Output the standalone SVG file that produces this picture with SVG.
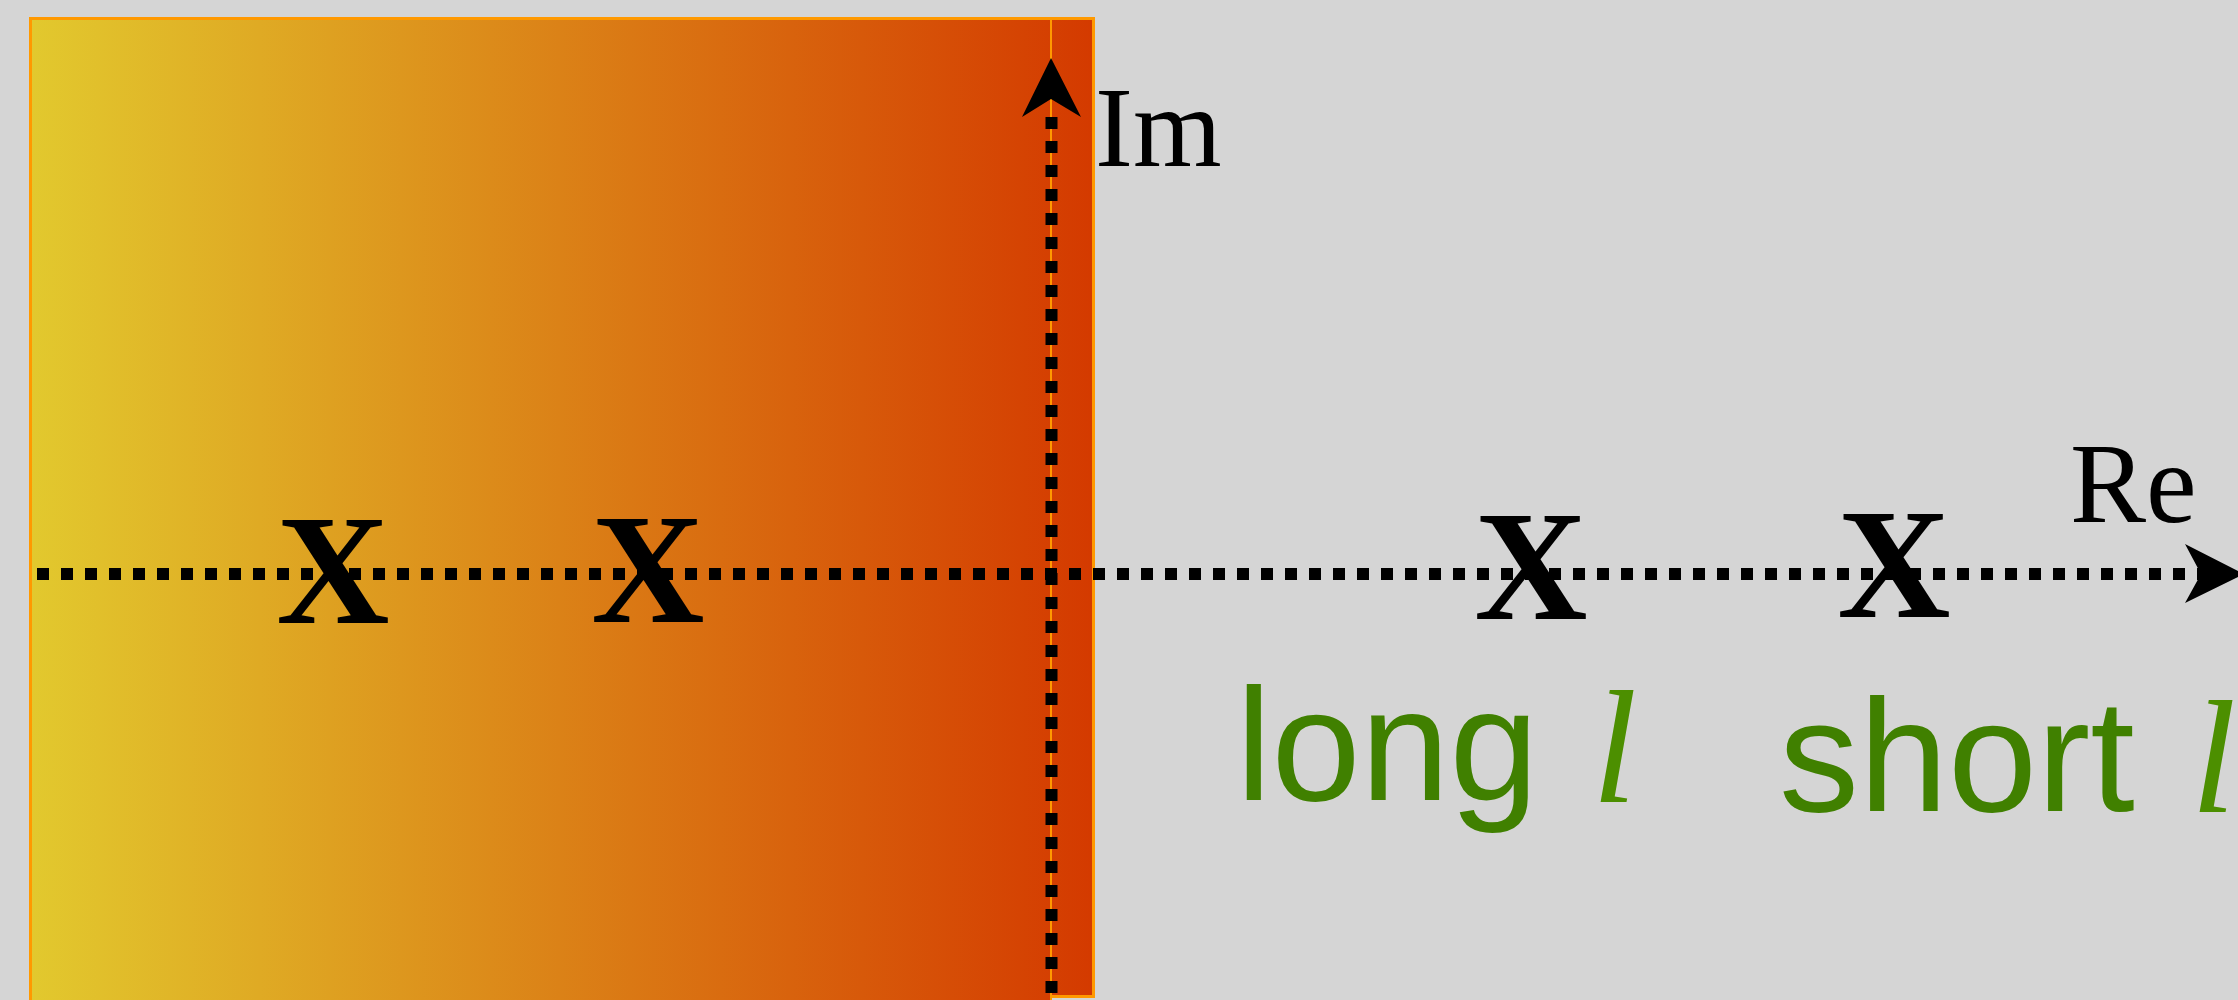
<svg xmlns="http://www.w3.org/2000/svg" width="2238" height="1000" viewBox="0 0 2238 1000">
  <defs>
    <linearGradient id="grad" x1="29" y1="0" x2="1093" y2="0" gradientUnits="userSpaceOnUse">
      <stop offset="0" stop-color="#e2c92e"/>
      <stop offset="1" stop-color="#d43a00"/>
    </linearGradient>
  </defs>
  <style>
    .axis { stroke: #000; stroke-width: 12; stroke-dasharray: 12 12; fill: none; }
    .head { fill: #000; }
    .mark { font-family: "Liberation Serif", "Times New Roman", serif; font-weight: bold; font-size: 157px; fill: #000; text-anchor: middle; }
    .lbl { font-family: "Liberation Serif", "Times New Roman", serif; font-size: 114px; fill: #000; }
    .txt { font-family: "Liberation Sans", Arial, sans-serif; font-size: 160px; fill: #408000; }
    .ell { font-family: "Liberation Serif", "Times New Roman", serif; font-style: italic; font-size: 162px; fill: #4c8f00; }
  </style>
  <rect x="0" y="0" width="2238" height="1000" fill="#d5d5d5"/>

  <g id="region">
    <rect x="30" y="18" width="1063" height="990" fill="url(#grad)"/>
    <rect x="1052" y="997" width="45" height="10" fill="#d5d5d5"/>
    <path d="M30.5,1005 V18.5 H1093.5 V996.5 H1052" fill="none" stroke="#ff9900" stroke-width="3"/>
  </g>

  <g id="connectors">
    <line x1="1051" y1="18" x2="1051" y2="1000" stroke="#ff9900" stroke-width="2"/>
    <line class="axis" x1="1051.5" y1="117" x2="1051.5" y2="1010"/>
    <polygon class="head" points="1051,58 1081,117 1051,99 1022,117"/>
    <line class="axis" x1="37" y1="574" x2="2209" y2="574"/>
    <polygon class="head" points="2244,574 2185,603 2201,574 2185,544"/>
  </g>

  <g id="label-im"><text class="lbl" x="1095" y="166">Im</text></g>
  <g id="label-re"><text class="lbl" x="2070" y="522">Re</text></g>

  <g id="pole-1"><text class="mark" x="333" y="623">X</text></g>
  <g id="pole-2"><text class="mark" x="648" y="622">X</text></g>
  <g id="pole-3"><text class="mark" x="1531" y="619">X</text></g>
  <g id="pole-4"><text class="mark" x="1894" y="617">X</text></g>

  <g id="label-long">
    <text class="txt" x="1236" y="800">long</text>
    <text class="ell" x="1592" y="802">l</text>
  </g>
  <g id="label-short">
    <text class="txt" x="1779" y="811">short</text>
    <text class="ell" x="2191" y="812">l</text>
  </g>
</svg>
